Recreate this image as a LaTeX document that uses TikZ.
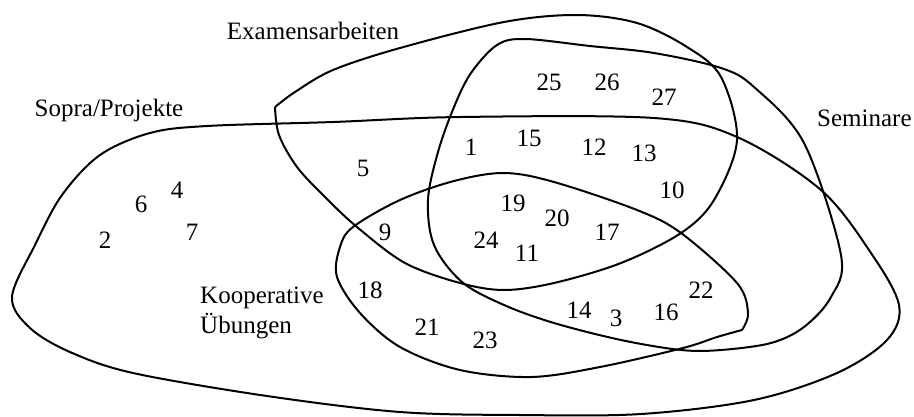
\documentclass[tikz,border=0pt]{standalone}
\usepackage{fontspec}
\setmainfont{Liberation Serif}
\begin{document}
\begin{tikzpicture}[x=1pt,y=-1pt,
  setline/.style={line width=2pt, line join=round},
  lab/.style={font=\fontsize{25}{30}\selectfont, inner sep=0pt},
  num/.style={font=\fontsize{25}{30}\selectfont, inner sep=0pt}]
\useasboundingbox (0,0) rectangle (914,416);
% Sopra/Projekte
\draw[setline] plot[smooth cycle, tension=0.55] coordinates {
 (207,126) (333,122) (460,117) (654,118) (737,137)
 (821,190) (871,253) (899,305) (887,340) (837,373)
 (754,400) (641,414) (520,415) (400,412) (267,396) (133,373) (70,352) (30,328)
 (12,297) (35,245) (62,195) (100,155) (150,133)};
% Examensarbeiten
\draw[setline] plot[smooth, tension=0.55] coordinates {
 (275,107) (279,135) (297,167) (325,197) (357,227) (405,263) (460,283)
 (504,290) (554,283) (621,263) (681,233) (714,200) (737,140)
 (721,77) (687,47) (637,23) (577,15) (504,22) (400,48) (333,70) (295,92) (275,107)};
% Seminare
\draw[setline] plot[smooth cycle, tension=0.55] coordinates {
 (525,39) (590,46) (654,53) (721,68) (754,87) (804,143) (841,255)
 (831,297) (804,327) (771,343) (721,350) (681,350) (621,340) (554,323)
 (504,305) (462,282) (434,245) (428,200) (438,152) (454,107) (471,73) (497,45)};
% Kooperative Uebungen
\draw[setline] plot[smooth, tension=0.55] coordinates {
 (742,330) (717,337) (683,348) (600,367) (531,377) (460,370) (400,347)
 (360,313) (337,277) (340,247) (353,227) (400,200) (454,181) (504,173)
 (554,182) (637,210) (681,233) (737,283) (748,313) (742,330)};
% labels
\node[lab] (exa) at (313,31) {Examensarbeiten};
\node[lab] (sop) at (109,110) {Sopra/Projekte};
\node[lab, anchor=west] (sem) at (817,118) {Seminare};
\node[lab, anchor=west, align=left] (koo) at (200,313) {Kooperative\\Übungen};
% numbers
\node[num] (n25) at (549,82) {25};
\node[num] (n26) at (607,82) {26};
\node[num] (n27) at (664,97) {27};
\node[num] (n1) at (471,147) {1};
\node[num] (n15) at (529,138) {15};
\node[num] (n12) at (594,147) {12};
\node[num] (n13) at (644,153) {13};
\node[num] (n10) at (672,190) {10};
\node[num] (n5) at (363,168) {5};
\node[num] (n4) at (177,190) {4};
\node[num] (n6) at (141,204) {6};
\node[num] (n2) at (105,240) {2};
\node[num] (n7) at (192,232) {7};
\node[num] (n9) at (385,232) {9};
\node[num] (n18) at (370,290) {18};
\node[num] (n21) at (427,327) {21};
\node[num] (n19) at (513,203) {19};
\node[num] (n20) at (557,218) {20};
\node[num] (n17) at (607,232) {17};
\node[num] (n24) at (486,240) {24};
\node[num] (n11) at (527,253) {11};
\node[num] (n22) at (701,290) {22};
\node[num] (n16) at (666,312) {16};
\node[num] (n14) at (579,310) {14};
\node[num] (n3) at (616,318) {3};
\node[num] (n23) at (485,340) {23};
\end{tikzpicture}
\end{document}
